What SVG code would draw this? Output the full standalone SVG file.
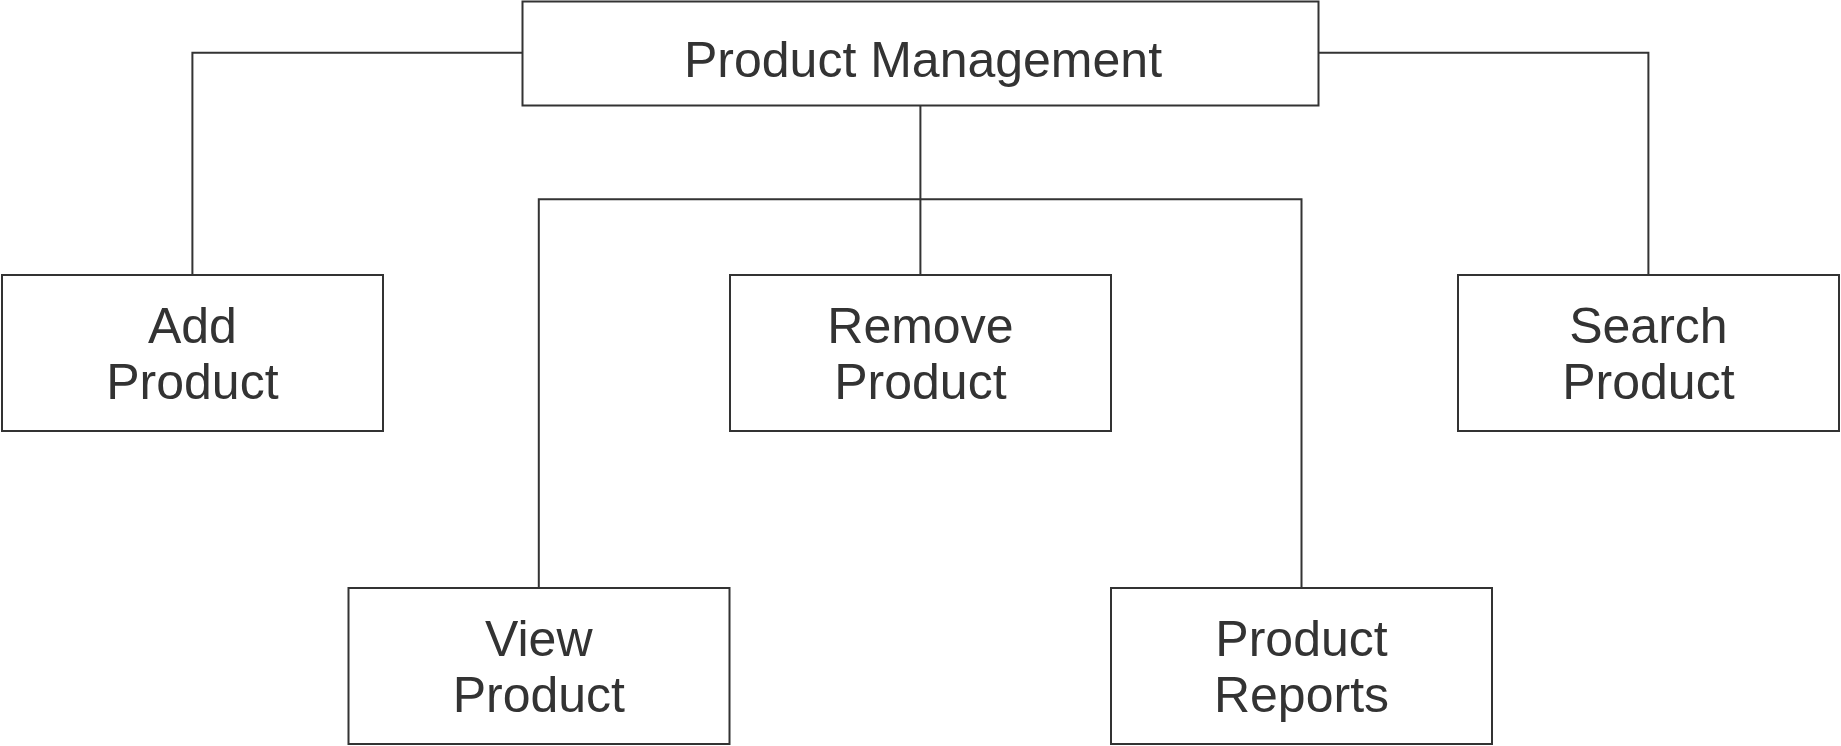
<svg xmlns="http://www.w3.org/2000/svg" width="1841" height="746" viewBox="0 0 1841 746">
<style>
.box{fill:#ffffff;stroke:#333333;stroke-width:2}
.lbl{font-family:"Liberation Sans",Arial,sans-serif;font-size:50px;fill:#333333;text-anchor:middle}
.con{fill:none;stroke:#333333;stroke-width:2}
</style>
<rect x="0" y="0" width="1841" height="746" fill="#ffffff"/>
<g id="connectors">
<polyline class="con" points="522.5,52.7 192.4,52.7 192.4,275"/>
<polyline class="con" points="1318.5,52.7 1648.4,52.7 1648.4,275"/>
<line class="con" x1="920.4" y1="105.5" x2="920.4" y2="275"/>
<polyline class="con" points="538.8,588 538.8,199.3 1301.5,199.3 1301.5,588"/>
</g>
<g id="node-product-management">
<rect class="box" x="522.5" y="1.5" width="796" height="104"/>
<text class="lbl" x="923" y="77.3">Product Management</text>
</g>
<g id="node-add-product">
<rect class="box" x="2" y="275" width="381" height="156"/>
<text class="lbl" x="192.4" y="343.3">Add</text>
<text class="lbl" x="192.4" y="399.3">Product</text>
</g>
<g id="node-remove-product">
<rect class="box" x="730" y="275" width="381" height="156"/>
<text class="lbl" x="920.4" y="343.3">Remove</text>
<text class="lbl" x="920.4" y="399.3">Product</text>
</g>
<g id="node-search-product">
<rect class="box" x="1458" y="275" width="381" height="156"/>
<text class="lbl" x="1648.4" y="343.3">Search</text>
<text class="lbl" x="1648.4" y="399.3">Product</text>
</g>
<g id="node-view-product">
<rect class="box" x="348.5" y="588" width="381" height="156"/>
<text class="lbl" x="538.8" y="656.3">View</text>
<text class="lbl" x="538.8" y="712.3">Product</text>
</g>
<g id="node-product-reports">
<rect class="box" x="1111" y="588" width="381" height="156"/>
<text class="lbl" x="1301.5" y="656.3">Product</text>
<text class="lbl" x="1301.5" y="712.3">Reports</text>
</g>
</svg>
